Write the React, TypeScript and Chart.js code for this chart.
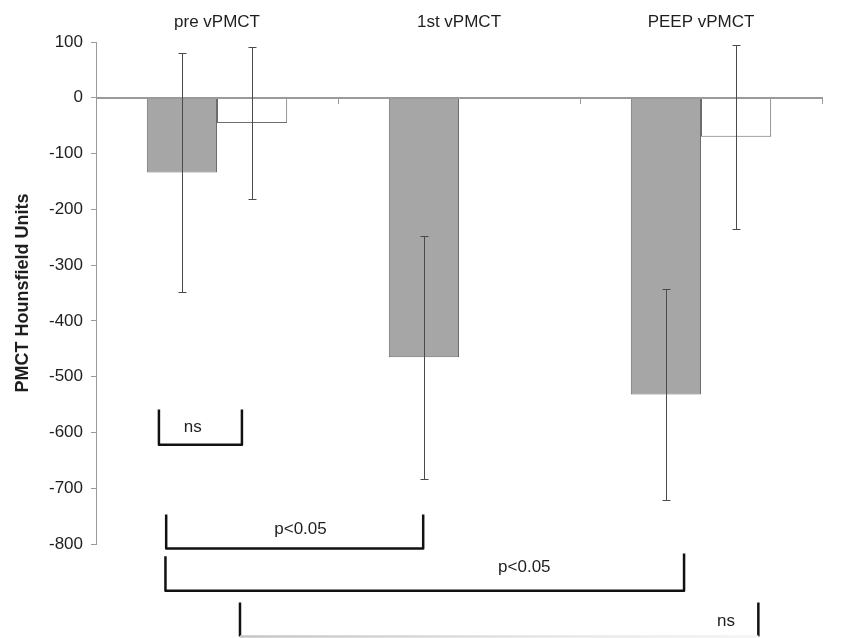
import React, { useEffect, useRef } from "react";
import { Chart, registerables } from "chart.js";

Chart.register(...registerables);

const categories = ["pre vPMCT", "1st vPMCT", "PEEP vPMCT"];
const greyMeans = [-134, -465, -532];
const greySD = [215, 218, 190];
const whiteMeans: (number | null)[] = [-45, null, -70];
const whiteSD: (number | null)[] = [136, null, 165];
const yMin = -800;
const yMax = 100;
const yStep = 100;
const yTitle = "PMCT Hounsfield Units";

// significance brackets: x in category-index units, y in Hounsfield units
const bracketLabels = ["ns", "p<0.05", "p<0.05", "ns"];
const bracketX1 = [-0.24, -0.21, -0.213, 0.095];
const bracketX2 = [0.103, 0.852, 1.93, 2.237];
const bracketTopL = [-559, -747, -822, -905];
const bracketTopR = [-559, -747, -817, -905];
const bracketBottom = [-622, -808, -884, -966];
const bracketTextX = [-0.1, 0.345, 1.27, 2.103];
const bracketTextY = [-590, -773, -841, -939];

const FONT = "'Liberation Sans', Arial, sans-serif";

const errorBarPlugin = {
  id: "errorBars",
  afterDatasetsDraw(chart: any) {
    const ctx = chart.ctx;
    const ys = chart.scales.y;
    const xs = chart.scales.x;
    // zero line drawn over bar tops, as in the original
    ctx.save();
    ctx.strokeStyle = "#9a9a9a";
    ctx.lineWidth = 1;
    const y0 = Math.round(ys.getPixelForValue(0)) + 0.5;
    ctx.beginPath();
    ctx.moveTo(xs.left, y0);
    ctx.lineTo(xs.right, y0);
    ctx.stroke();
    const sets = [
      { means: greyMeans, sd: greySD },
      { means: whiteMeans, sd: whiteSD },
    ];
    ctx.strokeStyle = "#4a4a4a";
    sets.forEach((s, i) => {
      const meta = chart.getDatasetMeta(i);
      meta.data.forEach((bar: any, j: number) => {
        const m = s.means[j];
        const e = s.sd[j];
        if (m == null || e == null) return;
        const x = Math.round(bar.x) + 0.5;
        const y1 = Math.round(ys.getPixelForValue(m + e)) + 0.5;
        const y2 = Math.round(ys.getPixelForValue(m - e)) + 0.5;
        ctx.beginPath();
        ctx.moveTo(x, y1);
        ctx.lineTo(x, y2);
        ctx.moveTo(x - 4, y1);
        ctx.lineTo(x + 4, y1);
        ctx.moveTo(x - 4, y2);
        ctx.lineTo(x + 4, y2);
        ctx.stroke();
      });
    });
    ctx.restore();
  },
};

const bracketPlugin = {
  id: "brackets",
  afterDraw(chart: any) {
    const ctx = chart.ctx;
    const xs = chart.scales.x;
    const ys = chart.scales.y;
    ctx.save();
    ctx.lineWidth = 2.5;
    ctx.lineJoin = "round";
    bracketLabels.forEach((label, i) => {
      const x1 = xs.getPixelForValue(bracketX1[i]);
      const x2 = xs.getPixelForValue(bracketX2[i]);
      const yl = ys.getPixelForValue(bracketTopL[i]);
      const yr = ys.getPixelForValue(bracketTopR[i]);
      const yb = Math.min(ys.getPixelForValue(bracketBottom[i]), chart.height - 1.5);
      const faded = yb >= chart.height - 2;
      ctx.strokeStyle = "#111";
      ctx.beginPath();
      ctx.moveTo(x1, yl);
      ctx.lineTo(x1, yb);
      if (!faded) ctx.lineTo(x2, yb);
      else ctx.moveTo(x2, yb);
      ctx.lineTo(x2, yr);
      ctx.stroke();
      if (faded) {
        const g = ctx.createLinearGradient(x1, 0, x2, 0);
        g.addColorStop(0, "#c4c4c4");
        g.addColorStop(0.6, "#e6e6e6");
        g.addColorStop(1, "#f4f4f4");
        ctx.strokeStyle = g;
        ctx.beginPath();
        ctx.moveTo(x1, yb);
        ctx.lineTo(x2, yb);
        ctx.stroke();
      }
      ctx.fillStyle = "#1e1e1e";
      ctx.font = `17px ${FONT}`;
      ctx.textAlign = "center";
      ctx.textBaseline = "middle";
      ctx.fillText(label, xs.getPixelForValue(bracketTextX[i]), ys.getPixelForValue(bracketTextY[i]));
    });
    ctx.restore();
  },
};

export default function App() {
  const ref = useRef<HTMLCanvasElement | null>(null);
  useEffect(() => {
    if (!ref.current) return;
    const chart = new Chart(ref.current, {
      type: "bar",
      data: {
        labels: categories,
        datasets: [
          {
            label: "grey",
            data: greyMeans,
            backgroundColor: "#a6a6a6",
            borderColor: "#6c6c6c",
            borderWidth: 1,
            categoryPercentage: 0.58,
            barPercentage: 1,
          },
          {
            label: "white",
            data: whiteMeans,
            backgroundColor: "#ffffff",
            borderColor: "#6c6c6c",
            borderWidth: 1,
            categoryPercentage: 0.58,
            barPercentage: 1,
          },
        ],
      },
      options: {
        responsive: false,
        animation: false,
        layout: { padding: { left: 0, top: 0, right: 27, bottom: 94 } },
        plugins: { legend: { display: false }, tooltip: { enabled: false } },
        scales: {
          x: {
            type: "category",
            position: { y: 0 } as any,
            offset: true,
            ticks: { display: false },
            grid: {
              display: true,
              drawOnChartArea: false,
              drawTicks: true,
              tickLength: 6,
              color: "#9a9a9a",
              offset: true,
            },
            border: { display: true, color: "#9a9a9a", width: 1 },
          },
          x2: {
            type: "category",
            labels: categories,
            position: "top",
            offset: true,
            grid: { display: false },
            border: { display: false },
            ticks: { color: "#1e1e1e", font: { family: FONT, size: 17 }, padding: 1 },
            afterFit(scale: any) {
              scale.height = 42;
            },
          },
          y: {
            min: yMin,
            max: yMax,
            ticks: {
              stepSize: yStep,
              color: "#1e1e1e",
              font: { family: FONT, size: 17 },
              padding: 8,
            },
            grid: {
              drawOnChartArea: false,
              drawTicks: true,
              tickLength: 5,
              color: "#9a9a9a",
            },
            border: { display: true, color: "#9a9a9a", width: 1 },
            title: {
              display: true,
              text: yTitle,
              color: "#1e1e1e",
              font: { family: FONT, size: 18, weight: "bold" },
              padding: { top: 12, bottom: 0 },
            },
            afterFit(scale: any) {
              scale.width = 96;
            },
          },
        },
      },
      plugins: [errorBarPlugin, bracketPlugin],
    });
    return () => chart.destroy();
  }, []);
  return (
    <div style={{ position: "absolute", left: 0, top: 0, width: 849, height: 638, background: "#fff" }}>
      <canvas ref={ref} width={849} height={638} style={{ display: "block" }} />
    </div>
  );
}
